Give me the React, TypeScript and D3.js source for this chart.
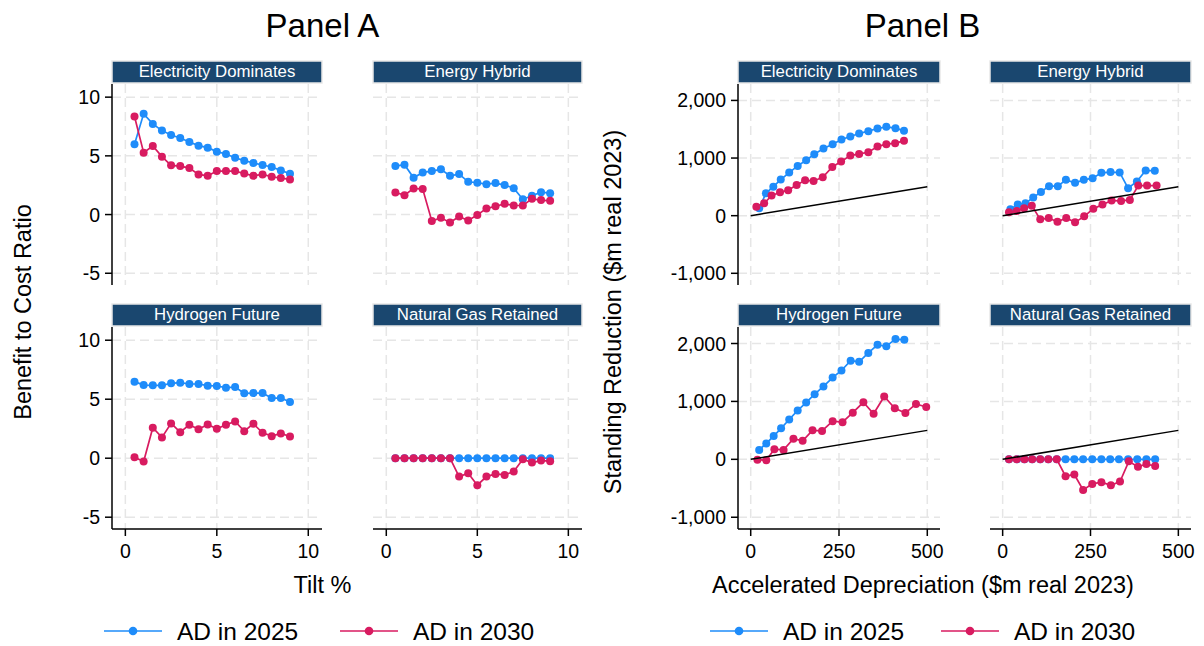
import React from 'react';
import * as d3 from 'd3';

const FONT = "'Liberation Sans', Arial, Helvetica, sans-serif";
const BLUE = '#1e8cfa';
const RED = '#d81b60';
const NAVY = '#1a476f';
const GRID = '#e6e6e6';

const scenarios = ['Electricity Dominates', 'Energy Hybrid', 'Hydrogen Future', 'Natural Gas Retained'];
const seriesNames = ['AD in 2025', 'AD in 2030'];

// Panel A: benefit to cost ratio by tilt %
const tilt = [0.5, 1, 1.5, 2, 2.5, 3, 3.5, 4, 4.5, 5, 5.5, 6, 6.5, 7, 7.5, 8, 8.5, 9];
const elecA2025 = [5.98, 8.58, 7.72, 7.15, 6.78, 6.52, 6.18, 5.87, 5.7, 5.36, 5.16, 4.84, 4.59, 4.39, 4.22, 4.05, 3.76, 3.48];
const elecA2030 = [8.35, 5.27, 5.84, 4.93, 4.19, 4.13, 3.96, 3.42, 3.3, 3.7, 3.7, 3.7, 3.5, 3.3, 3.42, 3.22, 3.11, 2.99];
const hybridA2025 = [4.13, 4.25, 3.13, 3.59, 3.7, 3.85, 3.3, 3.45, 2.79, 2.71, 2.59, 2.68, 2.51, 2.25, 1.31, 1.6, 1.91, 1.82];
const hybridA2030 = [1.88, 1.65, 2.22, 2.17, -0.54, -0.28, -0.68, -0.17, -0.51, -0.03, 0.51, 0.71, 0.91, 0.77, 0.77, 1.34, 1.23, 1.17];
const hydrogenA2025 = [6.49, 6.2, 6.18, 6.18, 6.35, 6.4, 6.29, 6.29, 6.15, 6.12, 5.98, 6.03, 5.5, 5.52, 5.52, 5.1, 5.1, 4.76];
const hydrogenA2030 = [0.08, -0.28, 2.58, 1.76, 2.95, 2.21, 2.83, 2.46, 2.86, 2.49, 2.83, 3.12, 2.29, 2.92, 2.15, 1.87, 2.1, 1.84];
const gasA2025 = [0, 0, 0, 0, 0, 0, 0, 0, 0, 0, 0, 0, 0, 0, 0, 0, 0, 0];
const gasA2030 = [0, 0, 0, 0, 0, 0, 0, -1.56, -1.27, -2.29, -1.56, -1.33, -1.42, -1.13, -0.08, -0.37, -0.2, -0.25];

// Panel B: stranding reduction vs accelerated depreciation ($m)
const elecB2025x = [24, 43, 64, 85, 109, 133, 157, 180, 206, 232, 257, 282, 307, 333, 359, 384, 410, 434];
const elecB2025y = [128, 388, 504, 626, 748, 864, 962, 1067, 1165, 1241, 1322, 1374, 1426, 1467, 1513, 1542, 1519, 1472];
const elecB2030x = [16, 38, 59, 83, 106, 130, 154, 178, 204, 231, 256, 282, 307, 333, 359, 384, 409, 434];
const elecB2030y = [157, 214, 348, 406, 441, 533, 614, 603, 667, 846, 939, 1043, 1072, 1101, 1200, 1241, 1258, 1299];
const hybridB2025x = [22, 43, 65, 87, 109, 132, 157, 180, 206, 231, 256, 281, 307, 333, 357, 382, 407, 433];
const hybridB2025y = [110, 192, 215, 314, 413, 512, 512, 622, 570, 622, 651, 744, 756, 750, 477, 593, 785, 779];
const hybridB2030x = [18, 40, 61, 83, 107, 131, 156, 181, 206, 232, 258, 284, 310, 337, 362, 386, 411, 438];
const hybridB2030y = [58, 81, 128, 174, -64, -41, -105, -41, -116, -12, 122, 192, 262, 256, 273, 523, 523, 523];
const hydrogenB2025x = [24, 44, 65, 86, 109, 133, 157, 181, 206, 232, 257, 283, 307, 333, 359, 384, 410, 435];
const hydrogenB2025y = [163, 274, 402, 536, 688, 845, 980, 1125, 1259, 1411, 1534, 1703, 1685, 1837, 1977, 1953, 2076, 2064];
const hydrogenB2030x = [19, 44, 67, 93, 121, 147, 175, 202, 232, 260, 289, 319, 348, 378, 408, 438, 468, 497];
const hydrogenB2030y = [-6, -17, 175, 163, 355, 321, 501, 490, 659, 641, 805, 985, 787, 1085, 880, 799, 956, 904];
const gasB2025x = [18, 41, 62, 84, 107, 130, 154, 179, 204, 229, 255, 281, 306, 331, 357, 383, 409, 434];
const gasB2025y = [0, 0, 0, 0, 0, 0, 0, 0, 0, 0, 0, 0, 0, 0, 0, 0, 0, 0];
const gasB2030x = [18, 40, 62, 84, 107, 130, 154, 179, 204, 229, 255, 281, 308, 334, 359, 385, 409, 434];
const gasB2030y = [0, 0, 0, 0, 0, 0, 0, -291, -262, -529, -424, -395, -448, -384, -35, -128, -81, -116];

// 45 degree reference line in panel B
const refLine = [0, 500];

const xTicksA = [0, 5, 10];
const yTicksA = [10, 5, 0, -5];
const yTickLabelsA = ['10', '5', '0', '-5'];
const xTicksB = [0, 250, 500];
const yTicksB = [2000, 1000, 0, -1000];
const yTickLabelsB = ['2,000', '1,000', '0', '-1,000'];

const rows: [number, number][] = [[84, 285], [327, 529]];
const STRIP_H = 22;

type Pt = [number, number];
const zip = (xs: number[], ys: number[]): Pt[] => xs.map((x, i) => [x, ys[i]]);

function Subplot({ title, x0, x1, row, xDomain, yDomain, xTicks, yTicks, yLabels, series, ref45, leftAxis, bottomAxis }: any) {
  const [top, bottom] = rows[row];
  const x = d3.scaleLinear().domain(xDomain).range([x0, x1]);
  const y = d3.scaleLinear().domain(yDomain).range([bottom, top]);
  const line = d3.line<Pt>().x(d => x(d[0])).y(d => y(d[1]));
  return (
    <g>
      <rect x={x0} y={top - STRIP_H - 1} width={x1 - x0} height={STRIP_H} fill={NAVY} stroke="#e8e8e8" strokeWidth={1.5} />
      <text x={(x0 + x1) / 2} y={top - 7} textAnchor="middle" fill="#fff" fontSize={16.8}>{title}</text>
      {yTicks.map((t: number) => (
        <line key={'gy' + t} x1={x0} x2={x1} y1={y(t)} y2={y(t)} stroke={GRID} strokeWidth={1.5} strokeDasharray="9 5" />
      ))}
      {xTicks.map((t: number) => (
        <line key={'gx' + t} x1={x(t)} x2={x(t)} y1={top} y2={bottom} stroke={GRID} strokeWidth={1.5} strokeDasharray="9 5" />
      ))}
      {series.map((s: any, i: number) => (
        <g key={i}>
          <path d={line(s.pts) || ''} fill="none" stroke={s.color} strokeWidth={1.7} />
          {s.pts.map((p: Pt, j: number) => (
            <circle key={j} cx={x(p[0])} cy={y(p[1])} r={4} fill={s.color} />
          ))}
        </g>
      ))}
      {ref45 && (
        <path d={line(ref45.map((v: number) => [v, v] as Pt)) || ''} stroke="#000" strokeWidth={1.5} fill="none" />
      )}
      {leftAxis && (
        <g>
          <line x1={x0} x2={x0} y1={top} y2={bottom} stroke="#000" strokeWidth={1.5} />
          {yTicks.map((t: number, i: number) => (
            <g key={'yt' + t}>
              <line x1={x0 - 7} x2={x0} y1={y(t)} y2={y(t)} stroke="#000" strokeWidth={1.5} />
              <text x={x0 - 12} y={y(t) + 7} textAnchor="end" fontSize={19.5}>{yLabels[i]}</text>
            </g>
          ))}
        </g>
      )}
      {bottomAxis && (
        <g>
          <line x1={x0} x2={x1} y1={bottom} y2={bottom} stroke="#000" strokeWidth={1.5} />
          {xTicks.map((t: number) => (
            <g key={'xt' + t}>
              <line x1={x(t)} x2={x(t)} y1={bottom} y2={bottom + 7} stroke="#000" strokeWidth={1.5} />
              <text x={x(t)} y={bottom + 29} textAnchor="middle" fontSize={19.5}>{t}</text>
            </g>
          ))}
        </g>
      )}
    </g>
  );
}

function Legend({ x0, gap }: { x0: number; gap: number }) {
  const cy = 631;
  const items = [
    { name: seriesNames[0], color: BLUE, dx: 0 },
    { name: seriesNames[1], color: RED, dx: gap },
  ];
  return (
    <g>
      {items.map(it => (
        <g key={it.name}>
          <line x1={x0 + it.dx} x2={x0 + it.dx + 58} y1={cy} y2={cy} stroke={it.color} strokeWidth={1.7} />
          <circle cx={x0 + it.dx + 29} cy={cy} r={4.3} fill={it.color} />
          <text x={x0 + it.dx + 73} y={cy + 8.5} fontSize={24.5}>{it.name}</text>
        </g>
      ))}
    </g>
  );
}

export default function App() {
  const colsA: [number, number][] = [[112, 322], [373, 582]];
  const colsB: [number, number][] = [[738, 940], [990, 1191]];
  const xDomA = [-0.73, 10.75];
  const yDomA = [-6.0, 11.12];
  const xDomB = [-36, 536];
  const yDomB = [-1203, 2285];

  const seriesA = [
    [zip(tilt, elecA2025), zip(tilt, elecA2030)],
    [zip(tilt, hybridA2025), zip(tilt, hybridA2030)],
    [zip(tilt, hydrogenA2025), zip(tilt, hydrogenA2030)],
    [zip(tilt, gasA2025), zip(tilt, gasA2030)],
  ];
  const seriesB = [
    [zip(elecB2025x, elecB2025y), zip(elecB2030x, elecB2030y)],
    [zip(hybridB2025x, hybridB2025y), zip(hybridB2030x, hybridB2030y)],
    [zip(hydrogenB2025x, hydrogenB2025y), zip(hydrogenB2030x, hydrogenB2030y)],
    [zip(gasB2025x, gasB2025y), zip(gasB2030x, gasB2030y)],
  ];

  return (
    <svg width={1204} height={646} style={{ position: 'absolute', left: 0, top: 0, background: '#fff' }}
      fontFamily={FONT}>
      <text x={322.5} y={37} textAnchor="middle" fontSize={33}>Panel A</text>
      <text x={922.5} y={37} textAnchor="middle" fontSize={33}>Panel B</text>

      {scenarios.map((s, i) => {
        const row = Math.floor(i / 2);
        const col = i % 2;
        return (
          <Subplot key={'A' + s} title={s} x0={colsA[col][0]} x1={colsA[col][1]} row={row}
            xDomain={xDomA} yDomain={yDomA} xTicks={xTicksA} yTicks={yTicksA} yLabels={yTickLabelsA}
            series={[{ pts: seriesA[i][0], color: BLUE }, { pts: seriesA[i][1], color: RED }]}
            leftAxis={col === 0} bottomAxis={row === 1} />
        );
      })}
      {scenarios.map((s, i) => {
        const row = Math.floor(i / 2);
        const col = i % 2;
        return (
          <Subplot key={'B' + s} title={s} x0={colsB[col][0]} x1={colsB[col][1]} row={row}
            xDomain={xDomB} yDomain={yDomB} xTicks={xTicksB} yTicks={yTicksB} yLabels={yTickLabelsB}
            series={[{ pts: seriesB[i][0], color: BLUE }, { pts: seriesB[i][1], color: RED }]}
            ref45={refLine} leftAxis={col === 0} bottomAxis={row === 1} />
        );
      })}

      <text transform="translate(30.5,312) rotate(-90)" textAnchor="middle" fontSize={23.5}>Benefit to Cost Ratio</text>
      <text transform="translate(621,312) rotate(-90)" textAnchor="middle" fontSize={23.5}>Standing Reduction ($m real 2023)</text>
      <text x={322.5} y={592.5} textAnchor="middle" fontSize={23.5}>Tilt %</text>
      <text x={923} y={592.5} textAnchor="middle" fontSize={23.5}>Accelerated Depreciation ($m real 2023)</text>

      <Legend x0={104} gap={236} />
      <Legend x0={710} gap={231} />
    </svg>
  );
}
